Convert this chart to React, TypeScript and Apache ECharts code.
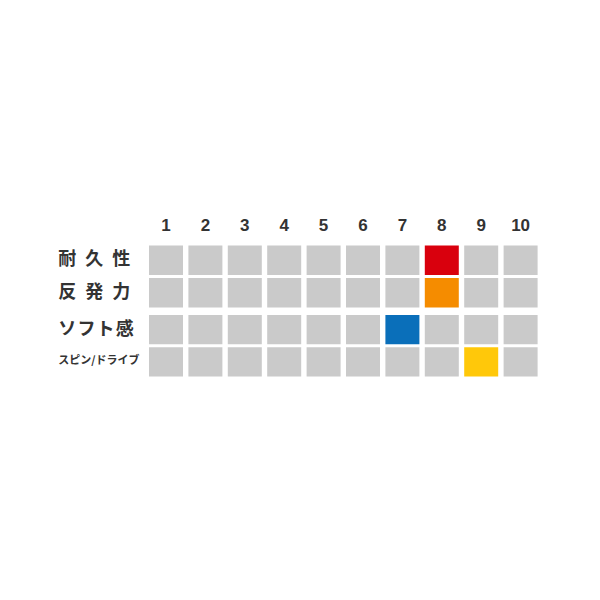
import {useEffect, useRef} from 'react';
import * as echarts from 'echarts';

// rating scale across the top
const columns = ['1', '2', '3', '4', '5', '6', '7', '8', '9', '10'];
// rows, in two blocks (the second block sits a little lower)
const upperRows = ['耐\u2002久\u2002性', '反\u2002発\u2002力'];
const lowerRows = ['ソ\u200Aフ\u200Aト\u200A感', 'スピン/ドライブ'];
// rated column for each row
const upperRatings = [8, 8];
const lowerRatings = [7, 9];
const upperColors = ['#d9000d', '#f58c00'];
const lowerColors = ['#0a6fba', '#ffc80a'];
// labels drawn in the small type
const smallLabels = ['スピン/ドライブ'];

const EMPTY = '#cacaca';
const FONT = '"Noto Sans CJK JP", "Noto Sans", sans-serif';

function cells(rows: string[], ratings: number[]) {
    const out: number[][] = [];
    rows.forEach((_, r) => {
        columns.forEach((c, ci) => {
            out.push([ci, r, Number(c) === ratings[r] ? 1 : 0]);
        });
    });
    return out;
}

function cellSeries(gridIndex: number, rows: string[], ratings: number[], colors: string[]) {
    return {
        type: 'custom',
        xAxisIndex: gridIndex,
        yAxisIndex: gridIndex,
        data: cells(rows, ratings),
        renderItem: (_params: any, api: any) => {
            const p = api.coord([api.value(0), api.value(1)]);
            const w = api.size([1, 0])[0] - 5.4;
            const h = api.size([0, 1])[1] - 3;
            const on = api.value(2) === 1;
            return {
                type: 'rect',
                shape: {x: p[0] - w / 2, y: p[1] - h / 2, width: w, height: h},
                style: {fill: on ? colors[api.value(1)] : EMPTY}
            };
        }
    };
}

export default function App() {
    const ref = useRef<HTMLDivElement | null>(null);

    useEffect(() => {
        document.body.style.margin = '0';
        if (!ref.current) return;
        const chart = echarts.init(ref.current, null, {renderer: 'svg'});
        const rowLabel = {
            align: 'left',
            margin: 88,
            padding: [0, 0, 6, 0],
            color: '#333',
            fontWeight: 'bold',
            fontFamily: FONT,
            fontSize: 18,
            rich: {
                small: {fontSize: 11, fontWeight: 'bold', color: '#333', fontFamily: FONT}
            },
            formatter: (v: string) => (smallLabels.includes(v) ? `{small|${v}}` : v)
        };
        chart.setOption({
            animation: false,
            backgroundColor: '#fff',
            grid: [
                {left: 146.3, width: 394, top: 244, height: 65},
                {left: 146.3, width: 394, top: 313.5, height: 64.6}
            ],
            xAxis: [
                {
                    type: 'category', gridIndex: 0, position: 'top', data: columns,
                    axisLine: {show: false}, axisTick: {show: false}, splitLine: {show: false},
                    axisLabel: {
                        margin: 10, color: '#333', fontSize: 17, fontWeight: 'bold',
                        fontFamily: '"Liberation Sans", Arial, sans-serif'
                    }
                },
                {
                    type: 'category', gridIndex: 1, data: columns, show: false
                }
            ],
            yAxis: [
                {
                    type: 'category', gridIndex: 0, inverse: true, data: upperRows,
                    axisLine: {show: false}, axisTick: {show: false}, splitLine: {show: false},
                    axisLabel: rowLabel
                },
                {
                    type: 'category', gridIndex: 1, inverse: true, data: lowerRows,
                    axisLine: {show: false}, axisTick: {show: false}, splitLine: {show: false},
                    axisLabel: rowLabel
                }
            ],
            series: [
                cellSeries(0, upperRows, upperRatings, upperColors),
                cellSeries(1, lowerRows, lowerRatings, lowerColors)
            ]
        });
        return () => chart.dispose();
    }, []);

    return <div ref={ref} style={{width: 600, height: 600}}/>;
}
